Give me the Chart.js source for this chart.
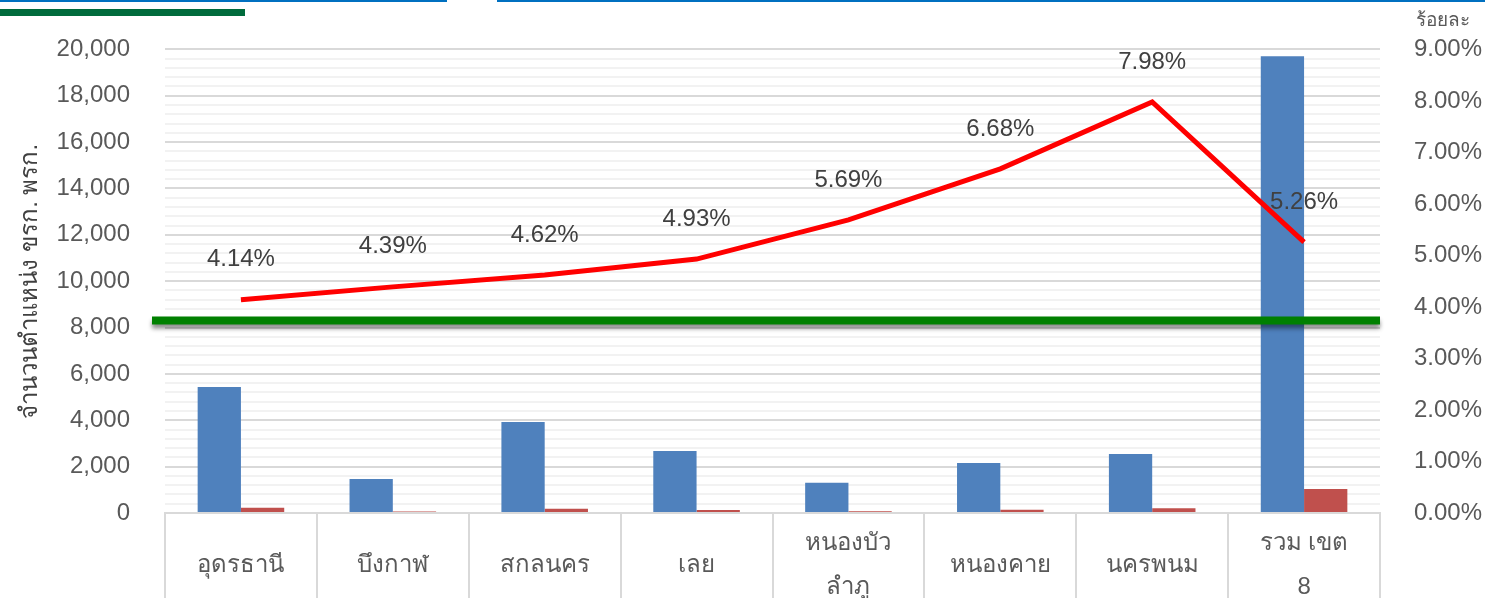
<!DOCTYPE html>
<html>
<head>
<meta charset="utf-8">
<script src="https://cdn.jsdelivr.net/npm/chart.js@4.4.0/dist/chart.umd.min.js"></script>
<style>
  html, body { margin: 0; padding: 0; background: #fff; }
  #wrap { position: relative; width: 1485px; height: 598px; }
  #topBlue1 { position: absolute; left: 0; top: 0; width: 447px; height: 2px; background: #0070c0; }
  #topBlue2 { position: absolute; left: 497px; top: 0; width: 988px; height: 2px; background: #0070c0; }
  #topGreen { position: absolute; left: 0; top: 9px; width: 245px; height: 7px; background: #006b3c; }
</style>
</head>
<body>
<div id="wrap">
  <canvas id="chart" width="1485" height="598"></canvas>
  <div id="topBlue1"></div>
  <div id="topBlue2"></div>
  <div id="topGreen"></div>
</div>
<script>
// categories (provinces)
const provinces = [
  'อุดรธานี', 'บึงกาฬ', 'สกลนคร', 'เลย',
  ['หนองบัว', 'ลำภู'], 'หนองคาย', 'นครพนม', ['รวม เขต', '8']
];
// positions (blue bars) and the smaller count (red bars)
const positions = [5440, 1470, 3930, 2680, 1300, 2160, 2550, 19700];
const smallCount = [225, 65, 182, 132, 74, 144, 203, 1036];
// percentage line (right axis)
const percents = [4.14, 4.39, 4.62, 4.93, 5.69, 6.68, 7.98, 5.26];
// green reference line, on left axis
const threshold = 8300;

const FONT = "'Liberation Sans', Arial, 'Noto Sans', 'DejaVu Sans', sans-serif";

// draws the green horizontal reference line
const refLinePlugin = {
  id: 'refLine',
  afterDatasetsDraw(chart) {
    const { ctx, chartArea } = chart;
    const y = chart.scales.y.getPixelForValue(threshold);
    ctx.save();
    ctx.shadowColor = 'rgba(0,0,0,0.45)';
    ctx.shadowBlur = 4;
    ctx.shadowOffsetY = 4;
    ctx.strokeStyle = '#008000';
    ctx.lineWidth = 8;
    ctx.beginPath();
    ctx.moveTo(chartArea.left - 13, y);
    ctx.lineTo(chartArea.right, y);
    ctx.stroke();
    ctx.restore();
  }
};

// percent labels over the line + right axis caption
const labelPlugin = {
  id: 'pctLabels',
  afterDraw(chart) {
    const { ctx } = chart;
    const meta = chart.getDatasetMeta(0);
    ctx.save();
    ctx.font = '24px ' + FONT;
    ctx.fillStyle = '#404040';
    ctx.textAlign = 'center';
    ctx.textBaseline = 'middle';
    meta.data.forEach((pt, i) => {
      ctx.fillText(percents[i].toFixed(2) + '%', pt.x, pt.y - 40);
    });
    ctx.font = '19px ' + FONT;
    ctx.fillStyle = '#595959';
    ctx.fillText('ร้อยละ', 1443, 21);
    ctx.restore();
  }
};

new Chart(document.getElementById('chart'), {
  type: 'bar',
  data: {
    labels: provinces,
    datasets: [
      {
        type: 'line',
        data: percents,
        yAxisID: 'y1',
        borderColor: '#ff0000',
        borderWidth: 5,
        pointRadius: 0,
        tension: 0,
        order: 0
      },
      {
        data: positions,
        backgroundColor: '#4f81bd',
        yAxisID: 'y',
        order: 1
      },
      {
        data: smallCount,
        backgroundColor: '#c0504d',
        yAxisID: 'y',
        order: 1
      }
    ]
  },
  options: {
    responsive: false,
    animation: false,
    layout: { padding: { top: 48, left: 0, right: 0, bottom: 0 } },
    plugins: {
      legend: { display: false },
      tooltip: { enabled: false }
    },
    datasets: {
      bar: { barPercentage: 1, categoryPercentage: 0.57 }
    },
    scales: {
      x: {
        offset: true,
        grid: {
          offset: true,
          drawOnChartArea: false,
          drawTicks: true,
          tickLength: 85,
          color: '#d9d9d9',
          lineWidth: 2
        },
        border: { color: '#d9d9d9', width: 2 },
        ticks: {
          font: { family: FONT, size: 24, lineHeight: 1.85 },
          color: '#595959',
          padding: -55,
          crossAlign: 'center',
          maxRotation: 0,
          autoSkip: false
        },
        afterFit(scale) { scale.height = 85; }
      },
      y: {
        position: 'left',
        min: 0,
        max: 20000,
        border: { display: false },
        grid: {
          drawTicks: false,
          color: ctx => (ctx.tick && ctx.tick.value % 2000 === 0) ? '#d9d9d9' : '#f2f2f2',
          lineWidth: 2
        },
        ticks: {
          stepSize: 400,
          autoSkip: false,
          padding: 35,
          font: { family: FONT, size: 24 },
          color: '#595959',
          callback: v => v % 2000 === 0 ? v.toLocaleString('en-US') : ''
        },
        title: {
          display: true,
          text: 'จำนวนตำแหน่ง ขรก. พรก.',
          font: { family: FONT, size: 24 },
          color: '#404040',
          padding: { top: 16, bottom: 0 }
        },
        afterFit(scale) { scale.width = 165; }
      },
      y1: {
        position: 'right',
        min: 0,
        max: 9,
        border: { display: false },
        grid: { display: false, drawTicks: false },
        ticks: {
          stepSize: 1,
          padding: 34,
          font: { family: FONT, size: 24 },
          color: '#595959',
          callback: v => v.toFixed(2) + '%'
        },
        afterFit(scale) { scale.width = 105; }
      }
    }
  },
  plugins: [refLinePlugin, labelPlugin]
});
</script>
</body>
</html>
